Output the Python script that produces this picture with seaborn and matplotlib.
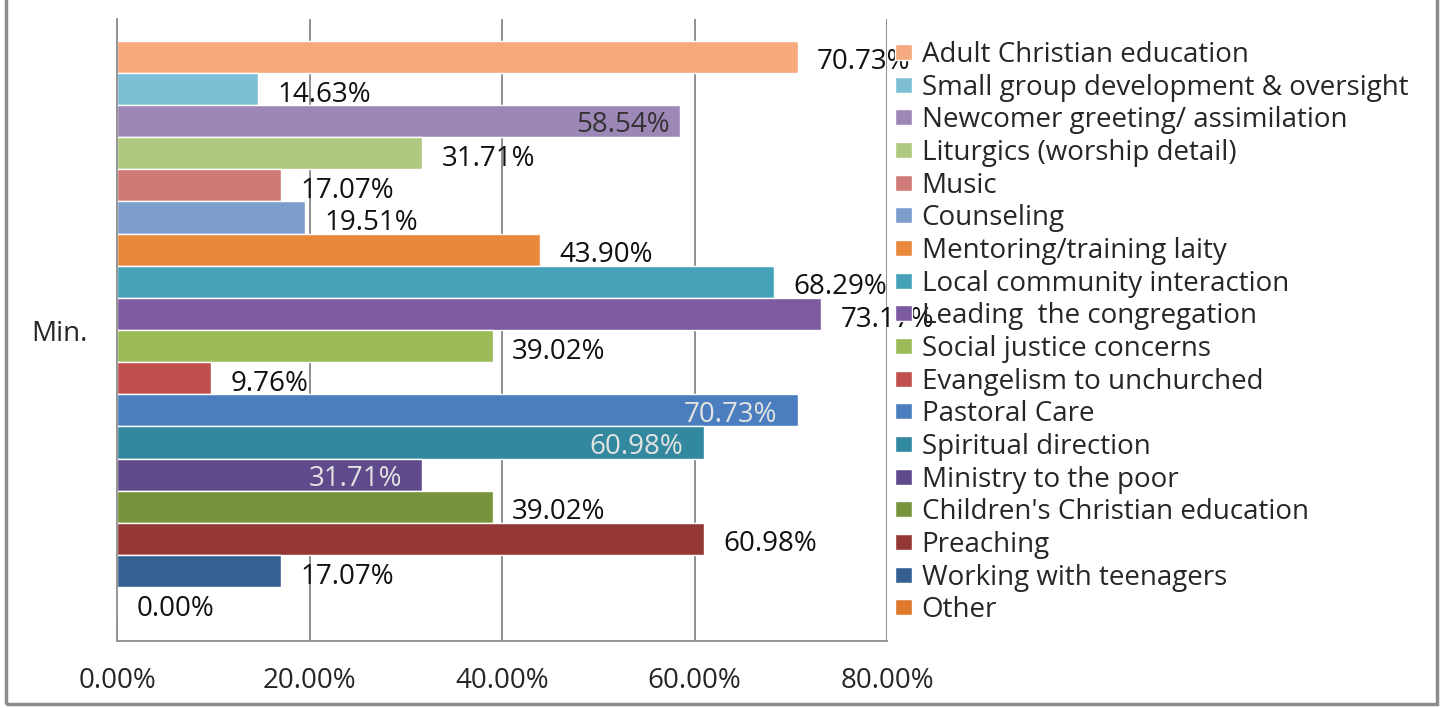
import seaborn as sns
import matplotlib.pyplot as plt
import pandas as pd
from matplotlib.patches import Rectangle

# data
activities = ["Adult Christian education", "Small group development & oversight",
              "Newcomer greeting/ assimilation", "Liturgics (worship detail)", "Music",
              "Counseling", "Mentoring/training laity", "Local community interaction",
              "Leading  the congregation", "Social justice concerns",
              "Evangelism to unchurched", "Pastoral Care", "Spiritual direction",
              "Ministry to the poor", "Children's Christian education", "Preaching",
              "Working with teenagers", "Other"]
percent = [70.73, 14.63, 58.54, 31.71, 17.07, 19.51, 43.90, 68.29, 73.17, 39.02,
           9.76, 70.73, 60.98, 31.71, 39.02, 60.98, 17.07, 0.00]
group = "Min."

colors = ["#F6A97C", "#7CBFD4", "#9D87B6", "#AFC980", "#D07A78", "#7D9ECD",
          "#E8883A", "#46A2B9", "#7D5BA0", "#9BBB59", "#C0504D", "#4A7EBE",
          "#32889E", "#5F4B8B", "#77933C", "#953735", "#376092", "#DF7A2C"]

# labels drawn inside the bar end (index: (offset px, text colour))
inside = {2: (-11, "#333333"), 11: (-21, "#E2E2E2"), 12: (-21, "#E2E2E2"),
          13: (-20, "#E2E2E2")}

df = pd.DataFrame({"group": group, "activity": activities, "percent": percent})

sns.set_style("white")
plt.rcParams["font.family"] = ["Open Sans", "DejaVu Sans"]
FS = 20

fig = plt.figure(figsize=(14.47, 7.08), dpi=100)
ax = fig.add_axes([0.0809, 0.0946, 0.5321, 0.8785])

sns.barplot(data=df, x="percent", y="group", hue="activity", hue_order=activities,
            palette=colors, orient="h", width=0.93, saturation=1, ax=ax)

for i, cont in enumerate(ax.containers):
    p = cont.patches[0]
    xe = p.get_width()
    yc = p.get_y() + p.get_height() / 2
    txt = f"{percent[i]:.2f}%"
    if i in inside:
        off, col = inside[i]
        ax.annotate(txt, (xe, yc), xytext=(off * 0.72, -3), textcoords="offset points",
                    ha="right", va="center", fontsize=FS, color=col)
    else:
        ax.annotate(txt, (xe, yc), xytext=(14, -4), textcoords="offset points",
                    ha="left", va="center", fontsize=FS, color="#111111", zorder=5)

ax.set_xlim(0, 80)
ax.set_xticks([0, 20, 40, 60, 80])
ax.set_xticklabels([f"{v:.2f}%" for v in [0, 20, 40, 60, 80]])
ax.xaxis.grid(True, color="#868686", linewidth=1.3)
ax.set_axisbelow(True)
ax.set_xlabel("")
ax.set_ylabel("")
ax.tick_params(axis="x", labelsize=FS, pad=18.5, length=0)
ax.tick_params(axis="y", labelsize=FS, pad=21, length=0)
for s in ["top", "right"]:
    ax.spines[s].set_visible(False)
for s in ["left", "bottom"]:
    ax.spines[s].set_color("#8C8C8C")
    ax.spines[s].set_linewidth(1.3)

handles, labels = ax.get_legend_handles_labels()
ax.legend(handles, labels, loc="upper left", bbox_to_anchor=(0.611, 0.958),
          bbox_transform=fig.transFigure, frameon=False, fontsize=FS,
          handlelength=0.6, handleheight=0.5, handletextpad=0.35,
          labelspacing=0.168, borderaxespad=0)

fig.patches.append(Rectangle((0.004, 0.005), 0.989, 1.2, transform=fig.transFigure,
                             fill=False, edgecolor="#8C8C8C", linewidth=2.5))

fig.savefig("out.png", dpi=100)
